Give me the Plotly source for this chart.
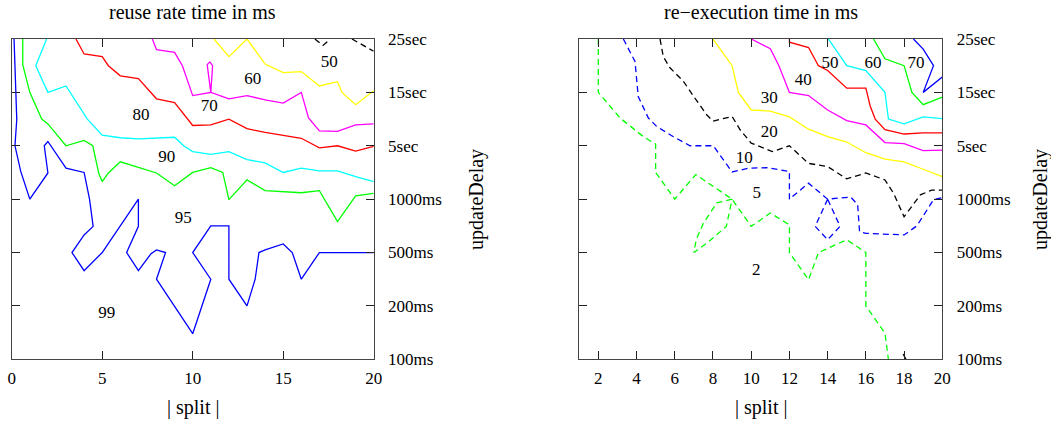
import plotly.graph_objects as go

# ---------------- data ----------------
Y_TICK_TEXT = ["100ms", "200ms", "500ms", "1000ms", "5sec", "15sec", "25sec"]
Y_TICK_VALS = [0, 1, 2, 3, 4, 5, 6]
LEFT_X_TICKS = [0, 5, 10, 15, 20]
RIGHT_X_TICKS = [2, 4, 6, 8, 10, 12, 14, 16, 18, 20]

# left panel: reuse rate contours
left_blue_x = [0.13, 0.24, 0.28, 0.18, 0.5, 1, 2, 1.8, 2, 3, 4, 4.3, 4.5, 4, 3.33, 4, 5, 7, 7, 6.35,
               7, 7.7, 8, 8.5, 8, 10, 11, 10, 11, 12, 12, 13, 13.45, 13.66, 14, 15, 15.5, 16, 17, 20]
left_blue_y = [6, 4.86, 4.49, 4.0, 3.52, 3.0, 3.49, 4.0, 4.08, 3.58, 3.5, 3.0, 2.49, 2.33, 2.0, 1.66, 2.0, 3.0, 2.49, 2.0,
               1.66, 1.98, 2.05, 2.0, 1.5, 0.48, 1.5, 2.0, 2.5, 2.5, 1.5, 1.0, 1.5, 2.0, 2.05, 2.16, 2.0, 1.5, 2.0, 2.0]
left_green_x = [0.61, 0.61, 1, 1.66, 2, 3, 4, 4.48, 4.82, 5, 5.34, 6, 8, 9, 10, 11, 11.66, 12, 13, 14, 16, 17, 18, 19, 20]
left_green_y = [6, 5.52, 5.0, 4.5, 4.41, 4.0, 4.1, 4.0, 3.47, 3.33, 3.49, 3.7, 3.49, 3.25, 3.5, 3.59, 3.5, 2.99, 3.36,
                3.16, 3.12, 3.16, 2.58, 3.06, 3.11]
left_cyan_x = [1.93, 1.33, 2, 3, 4.18, 5, 6, 7, 9, 9.5, 10, 11, 12, 13, 14, 15, 16, 17, 18, 19, 20]
left_cyan_y = [6, 5.5, 5.0, 5.12, 4.5, 4.2, 4.15, 4.13, 4.16, 4.0, 3.89, 3.84, 3.89, 3.74, 3.68, 3.5, 3.58, 3.53, 3.53,
               3.42, 3.33]
left_red_x = [3.55, 4, 5, 5.34, 6, 7, 8, 9, 10, 11, 12, 13, 14, 15, 16, 17, 18, 19, 20]
left_red_y = [6, 5.72, 5.67, 5.5, 5.31, 5.26, 4.88, 4.81, 4.38, 4.39, 4.5, 4.32, 4.25, 4.2, 4.14, 3.96, 4.0, 3.9, 3.99]
left_magenta_x = [7.77, 8, 9, 9.43, 10, 11, 10.8, 10.95, 11.1, 11, 12, 13, 14, 15, 16, 16.4, 17, 18, 19, 20]
left_magenta_y = [6, 5.8, 5.75, 5.5, 4.94, 5.0, 5.52, 5.57, 5.5, 5.0, 4.88, 4.94, 4.86, 4.8, 5.0, 4.52, 4.28, 4.27,
                  4.39, 4.41]
left_yellow_x = [11.18, 12, 13, 14, 15, 16, 17, 18, 18.25, 19, 20]
left_yellow_y = [6, 5.67, 6, 5.53, 5.37, 5.39, 5.12, 5.2, 5.0, 4.77, 5.03]
left_black_x = [16.75, 17.2, 17.6, None, 18.8, 20]
left_black_y = [6, 5.88, 6, None, 6, 5.77]

left_label_text = ["50", "60", "70", "80", "90", "95", "99"]
left_label_x = [17.55, 13.32, 10.92, 7.14, 8.56, 9.48, 5.25]
left_label_y = [5.55, 5.24, 4.74, 4.57, 3.77, 2.63, 0.86]

# right panel: re-execution time contours
right_green_dash_x = [2, 2, 3.14, 4.36, 5, 5, 6, 7.1, 9, 10, 11, 12, 12, 13, 13.52, 15, 16, 16, 17, 17.18,
                      None, 9, 8.2, 7.5, 7.12, 7, 7.7, 8.7, 8.9, 9]
right_green_dash_y = [6, 5, 4.52, 4.17, 4.03, 3.5, 3.0, 3.46, 3.0, 2.49, 2.74, 2.52, 2.0, 1.49, 2.0, 2.24, 2.0, 1.0,
                      0.49, 0.0, None, 3, 2.93, 2.55, 2.24, 2.0, 2.18, 2.49, 2.8, 3]
right_blue_dash_x = [3.31, 3.92, 4.09, 4.62, 5.06, 5.93, 6.8, 8.02, 9, 9.87, 10.82, 12, 12, 13, 14, 15.2, 15.57,
                     15.67, 16, 18, 18.67, 19.54, 20, None, 14, 13.35, 14, 14.65, 14]
right_blue_dash_y = [6, 5.58, 4.92, 4.52, 4.36, 4.17, 4.0, 4.0, 3.51, 3.58, 3.59, 3.52, 3.0, 3.3, 3.0, 3.04, 2.9,
                     2.39, 2.36, 2.33, 2.5, 2.99, 3.03, None, 3.0, 2.49, 2.24, 2.49, 3.0]
right_black_dash_x = [5.23, 5.4, 5.75, 6.45, 7, 7.67, 8, 9, 9.42, 10, 11.1, 12, 13, 14, 15, 16, 17, 17.45, 18,
                      18.85, 19.45, 20, None, 17.95, 18.1]
right_black_dash_y = [6, 5.67, 5.46, 5.21, 4.92, 4.58, 4.46, 4.55, 4.3, 4.05, 3.89, 4.0, 3.67, 3.61, 3.38, 3.49,
                      3.36, 3.11, 2.67, 3.08, 3.17, 3.17, None, 0.1, 0.0]
right_yellow_x = [8, 9, 9.33, 10, 11, 12, 13, 14, 15, 16, 17, 18, 19, 20]
right_yellow_y = [6, 5.5, 5.0, 4.67, 4.65, 4.54, 4.31, 4.17, 4.07, 3.87, 3.75, 3.7, 3.56, 3.42]
right_magenta_x = [10, 11, 11.45, 12, 13, 14, 15, 16, 17, 18, 19, 20]
right_magenta_y = [6, 5.82, 5.5, 5.0, 4.94, 4.67, 4.47, 4.39, 4.06, 4.04, 3.91, 3.92]
right_red_x = [12, 12, 13, 13.52, 14, 15, 16, 16.23, 16.49, 17, 18, 19, 20]
right_red_y = [6, 5.94, 5.84, 5.5, 5.41, 5.08, 5.08, 4.74, 4.5, 4.3, 4.22, 4.24, 4.24]
right_cyan_x = [14.04, 15, 16, 17, 17.18, 18, 19, 20]
right_cyan_y = [6, 5.5, 5.41, 5.0, 4.5, 4.41, 4.54, 4.51]
right_green_x = [16.4, 17, 18, 18.41, 19, 20]
right_green_y = [6, 5.63, 5.5, 5.0, 4.77, 4.91]
right_blue_x = [18.49, 19, 19.54, 19, 20]
right_blue_y = [6, 5.81, 5.5, 5.0, 5.29]

right_label_text = ["2", "5", "10", "20", "30", "40", "50", "60", "70"]
right_label_x = [10.26, 10.29, 9.64, 10.95, 10.95, 12.73, 14.13, 16.37, 18.63]
right_label_y = [1.66, 3.11, 3.76, 4.24, 4.88, 5.22, 5.53, 5.53, 5.53]

TITLES = ["reuse rate time in ms", "re\u2212execution time in ms"]
X_TITLE = "| split |"
Y_TITLE = "updateDelay"

# ---------------- figure ----------------
FONT = "Liberation Serif, Times New Roman, serif"
W, H = 1051, 425


def px(p):
    return p / W


def py(p):
    return 1 - p / H


BLUE, GREEN, CYAN, RED, MAG, YEL, BLK = "#0000ff", "#00ff00", "#00ffff", "#ff0000", "#ff00ff", "#ffff00", "#000000"

fig = go.Figure()


def add_line(xs, ys, color, xa, ya, dash="solid"):
    fig.add_trace(go.Scatter(x=xs, y=ys, mode="lines", xaxis=xa, yaxis=ya,
                             line=dict(color=color, width=1.3, dash=dash),
                             hoverinfo="skip", showlegend=False, connectgaps=False))


DASH = "6px,4px"
add_line(left_blue_x, left_blue_y, BLUE, "x", "y")
add_line(left_green_x, left_green_y, GREEN, "x", "y")
add_line(left_cyan_x, left_cyan_y, CYAN, "x", "y")
add_line(left_red_x, left_red_y, RED, "x", "y")
add_line(left_magenta_x, left_magenta_y, MAG, "x", "y")
add_line(left_yellow_x, left_yellow_y, YEL, "x", "y")
add_line(left_black_x, left_black_y, BLK, "x", "y", DASH)

add_line(right_green_dash_x, right_green_dash_y, GREEN, "x2", "y2", DASH)
add_line(right_blue_dash_x, right_blue_dash_y, BLUE, "x2", "y2", DASH)
add_line(right_black_dash_x, right_black_dash_y, BLK, "x2", "y2", DASH)
add_line(right_yellow_x, right_yellow_y, YEL, "x2", "y2")
add_line(right_magenta_x, right_magenta_y, MAG, "x2", "y2")
add_line(right_red_x, right_red_y, RED, "x2", "y2")
add_line(right_cyan_x, right_cyan_y, CYAN, "x2", "y2")
add_line(right_green_x, right_green_y, GREEN, "x2", "y2")
add_line(right_blue_x, right_blue_y, BLUE, "x2", "y2")

fig.add_trace(go.Scatter(x=left_label_x, y=left_label_y, text=left_label_text, mode="text",
                         textfont=dict(family=FONT, size=17, color="#000"), xaxis="x", yaxis="y",
                         hoverinfo="skip", showlegend=False))
fig.add_trace(go.Scatter(x=right_label_x, y=right_label_y, text=right_label_text, mode="text",
                         textfont=dict(family=FONT, size=17, color="#000"), xaxis="x2", yaxis="y2",
                         hoverinfo="skip", showlegend=False))

XD1 = [px(11.7), px(373.7)]
XD2 = [px(579.2), px(942.3)]
YD = [py(359.3), py(39)]

frame = dict(showline=True, linecolor="#444", linewidth=1, mirror="ticks", ticks="inside", ticklen=8,
             tickcolor="#222", tickwidth=1, showgrid=False, zeroline=False, automargin=False,
             tickfont=dict(family=FONT, size=17, color="#000"), fixedrange=True)

fig.update_layout(
    width=W, height=H, margin=dict(l=0, r=0, t=0, b=0),
    paper_bgcolor="white", plot_bgcolor="white", showlegend=False,
    font=dict(family=FONT, size=17, color="#000"),
    xaxis=dict(domain=XD1, range=[0, 20], anchor="y", tickvals=LEFT_X_TICKS, ticklabelstandoff=3, **frame),
    yaxis=dict(domain=YD, range=[0, 6], anchor="x", side="right", tickvals=Y_TICK_VALS, ticktext=Y_TICK_TEXT,
               ticklabelstandoff=10, **frame),
    xaxis2=dict(domain=XD2, range=[1, 20], anchor="y2", tickvals=RIGHT_X_TICKS, ticklabelstandoff=3, **frame),
    yaxis2=dict(domain=YD, range=[0, 6], anchor="x2", side="right", tickvals=Y_TICK_VALS, ticktext=Y_TICK_TEXT,
                ticklabelstandoff=10, **frame),
)

ann_font = dict(family=FONT, size=20, color="#000")
annotations = [
    dict(text=TITLES[0], x=(XD1[0] + XD1[1]) / 2, y=py(12)),
    dict(text=TITLES[1], x=(XD2[0] + XD2[1]) / 2, y=py(12)),
    dict(text=X_TITLE, x=(XD1[0] + XD1[1]) / 2, y=py(407)),
    dict(text=X_TITLE, x=(XD2[0] + XD2[1]) / 2, y=py(407)),
    dict(text=Y_TITLE, x=px(476), y=py(200), textangle=-90),
    dict(text=Y_TITLE, x=px(1040), y=py(200), textangle=-90),
]
for a in annotations:
    a.update(xref="paper", yref="paper", showarrow=False, font=ann_font, xanchor="center", yanchor="middle")
fig.update_layout(annotations=annotations)

fig.write_html("out.html", config={"displayModeBar": False, "staticPlot": True},
               post_script="document.body.style.margin='0';document.body.style.overflow='hidden';")
